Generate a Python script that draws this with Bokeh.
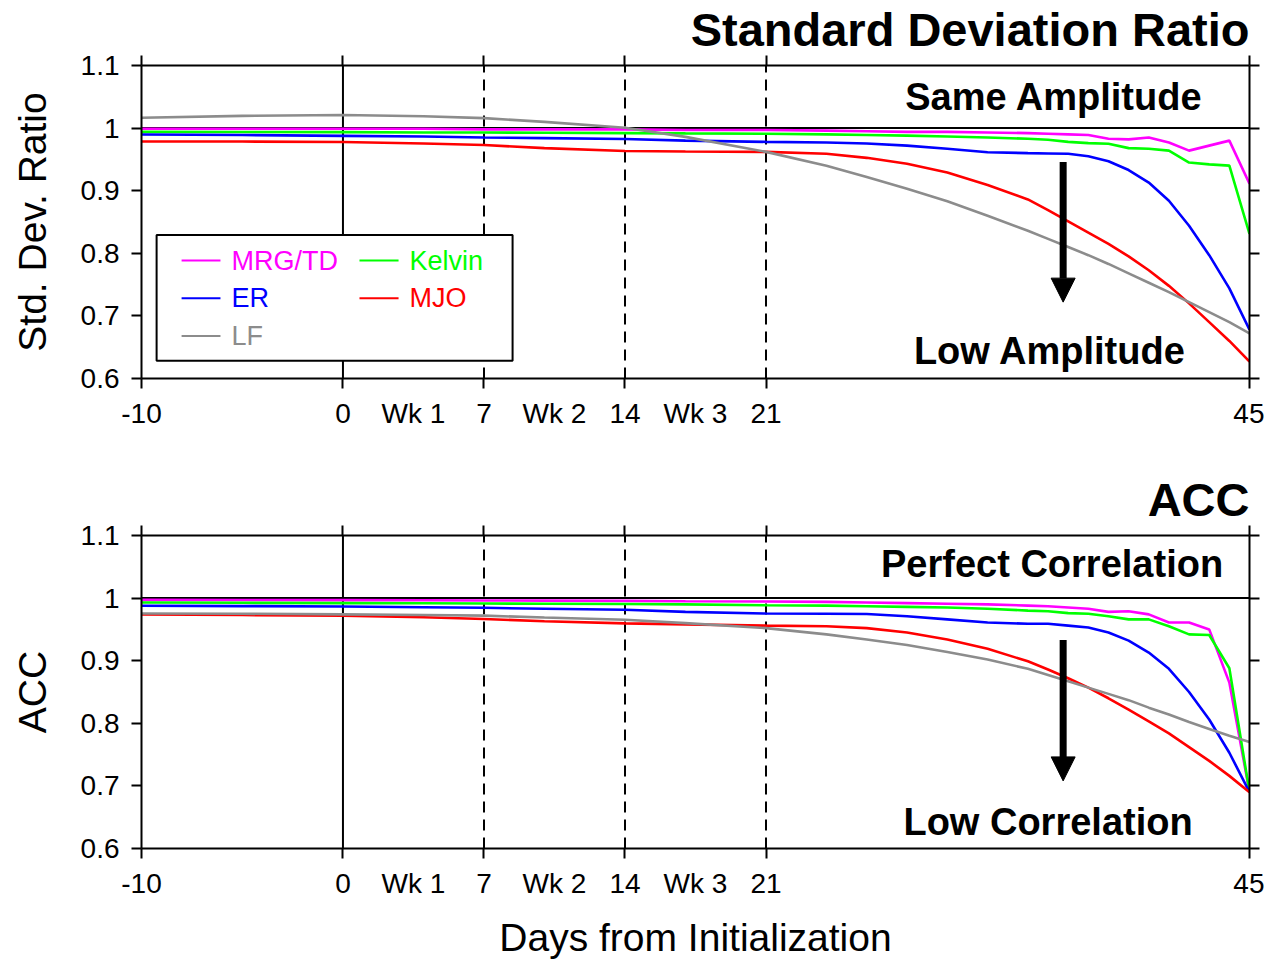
from bokeh.plotting import figure
from bokeh.models import Range1d, LinearAxis, FixedTicker, Arrow, NormalHead
from bokeh.layouts import column
from bokeh.embed import file_html
from bokeh.resources import INLINE
from bokeh.core.properties import value

# ---------------- data ----------------
days = [-10, -5, 0, 4, 7, 10, 14, 17, 21, 24, 26, 28, 30, 32, 34, 35, 36, 37, 38, 39, 40, 41, 42, 43, 44, 45]

# Standard deviation ratio
sd_mrg = [0.999, 0.999, 0.999, 0.999, 0.998, 0.998, 0.998, 0.997, 0.997, 0.996, 0.995, 0.994, 0.994, 0.993,
          0.992, 0.991, 0.990, 0.989, 0.983, 0.982, 0.985, 0.977, 0.964, 0.972, 0.980, 0.911]
sd_kelvin = [0.994, 0.9937, 0.9935, 0.993, 0.993, 0.9925, 0.992, 0.9915, 0.991, 0.990, 0.989, 0.988, 0.9865, 0.985,
             0.983, 0.9815, 0.978, 0.976, 0.975, 0.968, 0.967, 0.964, 0.945, 0.942, 0.940, 0.831]
sd_er = [0.9897, 0.989, 0.9876, 0.9865, 0.985, 0.984, 0.9826, 0.980, 0.978, 0.977, 0.9755, 0.972, 0.967, 0.9615,
         0.960, 0.9595, 0.959, 0.955, 0.947, 0.933, 0.913, 0.884, 0.844, 0.797, 0.744, 0.678]
sd_mjo = [0.9787, 0.9785, 0.9778, 0.9755, 0.9729, 0.968, 0.9634, 0.9625, 0.962, 0.959, 0.9525, 0.943, 0.929, 0.909,
          0.886, 0.869, 0.851, 0.833, 0.815, 0.795, 0.773, 0.748, 0.720, 0.690, 0.660, 0.627]
sd_lf = [1.0165, 1.0195, 1.021, 1.019, 1.016, 1.010, 1.0005, 0.986, 0.962, 0.940, 0.922, 0.903, 0.883, 0.860,
         0.836, 0.823, 0.810, 0.797, 0.783, 0.768, 0.753, 0.738, 0.722, 0.706, 0.690, 0.672]

# Anomaly correlation coefficient
acc_mrg = [0.9971, 0.997, 0.9968, 0.9965, 0.9962, 0.996, 0.9955, 0.995, 0.9945, 0.994, 0.993, 0.992, 0.991, 0.990,
           0.988, 0.987, 0.985, 0.983, 0.978, 0.979, 0.974, 0.961, 0.961, 0.950, 0.865, 0.690]
acc_kelvin = [0.9929, 0.9925, 0.992, 0.9917, 0.9913, 0.991, 0.9905, 0.990, 0.9885, 0.988, 0.987, 0.986, 0.985, 0.983,
              0.980, 0.979, 0.976, 0.975, 0.971, 0.966, 0.966, 0.955, 0.942, 0.941, 0.888, 0.690]
acc_er = [0.9877, 0.9872, 0.9866, 0.9855, 0.9845, 0.983, 0.9813, 0.978, 0.9753, 0.975, 0.9745, 0.971, 0.966, 0.961,
          0.959, 0.959, 0.956, 0.953, 0.945, 0.932, 0.913, 0.887, 0.850, 0.806, 0.753, 0.690]
acc_mjo = [0.9739, 0.973, 0.972, 0.9695, 0.9666, 0.963, 0.9597, 0.958, 0.956, 0.955, 0.952, 0.945, 0.934, 0.919,
           0.899, 0.886, 0.872, 0.857, 0.840, 0.822, 0.803, 0.784, 0.762, 0.740, 0.716, 0.690]
acc_lf = [0.9755, 0.975, 0.974, 0.973, 0.972, 0.969, 0.9655, 0.960, 0.952, 0.942, 0.934, 0.925, 0.914, 0.902,
          0.887, 0.877, 0.867, 0.857, 0.847, 0.837, 0.825, 0.814, 0.802, 0.791, 0.780, 0.770]

series_names = ["MRG/TD", "Kelvin", "ER", "MJO", "LF"]
series_colors = ["#FF00FF", "#00FF00", "#0000FF", "#FF0000", "#8C8C8C"]

x_tick_vals = [-10, 0, 3.5, 7, 10.5, 14, 17.5, 21, 45]
x_tick_labels = ["-10", "0", "Wk 1", "7", "Wk 2", "14", "Wk 3", "21", "45"]
x_mark_vals = [-10, 0, 7, 14, 21, 45]
y_tick_vals = [0.6, 0.7, 0.8, 0.9, 1.0, 1.1]
y_tick_labels = ["0.6", "0.7", "0.8", "0.9", "1", "1.1"]
week_lines = [7, 14, 21]
init_day = 0
ref_value = 1.0

FONT = "Liberation Sans"
XMIN, XMAX = -10, 45
YMIN, YMAX = 0.6, 1.1


def make_panel(height, b_top, b_bottom, ylabel, title, top_text, bottom_text, values,
               arrow_y, xlabel=None, legend=False):
    p = figure(width=1264, height=height, x_range=Range1d(XMIN, XMAX), y_range=Range1d(YMIN, YMAX),
               output_backend="svg", toolbar_location=None, title=title,
               min_border_left=141, min_border_right=15, min_border_top=b_top, min_border_bottom=b_bottom)
    p.grid.visible = False
    p.outline_line_color = None
    p.background_fill_color = "white"
    p.border_fill_color = "white"

    p.title.align = "right"
    p.title.text_font = FONT
    p.title.text_font_size = "47px"
    p.title.text_font_style = "bold"
    p.title.text_color = "black"
    p.title.text_line_height = 0.95
    p.title.standoff = 0
    p.title.offset = 0

    # bottom axis
    xa = p.xaxis[0]
    xa.ticker = FixedTicker(ticks=x_tick_vals, minor_ticks=x_mark_vals)
    xa.major_label_overrides = {v: s for v, s in zip(x_tick_vals, x_tick_labels)}
    xa.major_tick_out = 0
    xa.major_tick_in = 0
    xa.minor_tick_out = 10
    xa.minor_tick_in = 0
    xa.minor_tick_line_width = 2
    xa.minor_tick_line_color = "black"
    xa.axis_line_width = 2
    xa.axis_line_color = "black"
    xa.major_label_text_font = FONT
    xa.major_label_text_font_size = "28px"
    xa.major_label_text_color = "black"
    xa.major_label_standoff = 9
    if xlabel:
        xa.axis_label = xlabel
        xa.axis_label_text_font = FONT
        xa.axis_label_text_font_size = "39px"
        xa.axis_label_text_font_style = "normal"
        xa.axis_label_text_color = "black"
        xa.axis_label_standoff = 14

    # left axis
    ya = p.yaxis[0]
    ya.ticker = FixedTicker(ticks=y_tick_vals)
    ya.major_label_overrides = {v: s for v, s in zip(y_tick_vals, y_tick_labels)}
    ya.major_tick_out = 10
    ya.major_tick_in = 0
    ya.minor_tick_out = 0
    ya.minor_tick_in = 0
    ya.major_tick_line_width = 2
    ya.axis_line_width = 2
    ya.axis_line_color = "black"
    ya.major_label_text_font = FONT
    ya.major_label_text_font_size = "28px"
    ya.major_label_text_color = "black"
    ya.major_label_standoff = 12
    ya.axis_label = ylabel
    ya.axis_label_text_font = FONT
    ya.axis_label_text_font_size = "39px"
    ya.axis_label_text_font_style = "normal"
    ya.axis_label_text_color = "black"
    ya.axis_label_standoff = 24

    # top and right axes (ticks only)
    top = LinearAxis(ticker=FixedTicker(ticks=x_mark_vals),
                     major_label_overrides={v: "" for v in x_mark_vals},
                     major_label_text_font_size="0px", major_label_standoff=0, axis_label_standoff=0,
                     major_tick_out=10, major_tick_in=0, minor_tick_out=0, minor_tick_in=0,
                     major_tick_line_width=2, axis_line_width=2, axis_line_color="black")
    p.add_layout(top, "above")
    right = LinearAxis(ticker=FixedTicker(ticks=y_tick_vals),
                       major_label_overrides={v: "" for v in y_tick_vals},
                       major_label_text_font_size="0px", major_label_standoff=0, axis_label_standoff=0,
                       major_tick_out=10, major_tick_in=0, minor_tick_out=0, minor_tick_in=0,
                       major_tick_line_width=2, axis_line_width=2, axis_line_color="black")
    p.add_layout(right, "right")

    # reference lines
    p.segment(x0=[init_day], y0=[YMIN], x1=[init_day], y1=[YMAX], line_color="black", line_width=2)
    p.segment(x0=week_lines, y0=[YMIN] * len(week_lines), x1=week_lines, y1=[YMAX] * len(week_lines),
              line_color="black", line_width=2, line_dash="11 7")
    p.segment(x0=[XMIN], y0=[ref_value], x1=[XMAX], y1=[ref_value], line_color="black", line_width=2)

    # curves
    for vals, col in zip(values, series_colors):
        p.line(days, vals, line_color=col, line_width=2.6)

    # legend (drawn manually so the text takes the series colour)
    if legend:
        p.quad(left=[-9.25], right=[8.42], bottom=[0.6285], top=[0.8294],
               fill_color="white", line_color="black", line_width=2)
        col_x = [(-8.01, -6.08, -5.53), (0.82, 2.76, 3.30)]
        row_y = [0.7883, 0.7282, 0.6680]
        lx0, lx1, ly, tx, ty, tt, tc = [], [], [], [], [], [], []
        for i, (name, colr) in enumerate(zip(series_names, series_colors)):
            r, c = divmod(i, 2)
            x0, x1, xt = col_x[c]
            lx0.append(x0); lx1.append(x1); ly.append(row_y[r])
            tx.append(xt); ty.append(row_y[r]); tt.append(name); tc.append(colr)
        p.segment(x0=lx0, y0=ly, x1=lx1, y1=ly, line_color=series_colors, line_width=2)
        p.text(x=tx, y=ty, text=tt, text_color=tc, text_font=value(FONT), text_font_size="27px",
               text_align="left", text_baseline="middle")

    # annotations text
    p.text(x=[top_text[1], bottom_text[1]], y=[top_text[2], bottom_text[2]],
           text=[top_text[0], bottom_text[0]], text_color="black", text_font=value(FONT),
           text_font_style="bold", text_font_size="38px", text_align="center", text_baseline="middle")
    p.add_layout(Arrow(end=NormalHead(size=24, fill_color="black", line_color="black", line_width=1),
                       x_start=35.75, y_start=arrow_y[0], x_end=35.75, y_end=arrow_y[1],
                       line_width=7, line_color="black"))
    return p


p1 = make_panel(470, 62, 92, "Std. Dev. Ratio", "Standard Deviation Ratio",
                ("Same Amplitude", 35.3, 1.0502), ("Low Amplitude", 35.1, 0.6435),
                [sd_mrg, sd_kelvin, sd_er, sd_mjo, sd_lf], (0.946, 0.722), legend=True)
p2 = make_panel(491, 64, 111, "ACC", "ACC",
                ("Perfect Correlation", 35.2, 1.0541), ("Low Correlation", 35.0, 0.6427),
                [acc_mrg, acc_kelvin, acc_er, acc_mjo, acc_lf], (0.933, 0.708),
                xlabel="Days from Initialization")

layout = column(p1, p2, spacing=0)
open("out.html", "w").write(file_html(layout, INLINE))
